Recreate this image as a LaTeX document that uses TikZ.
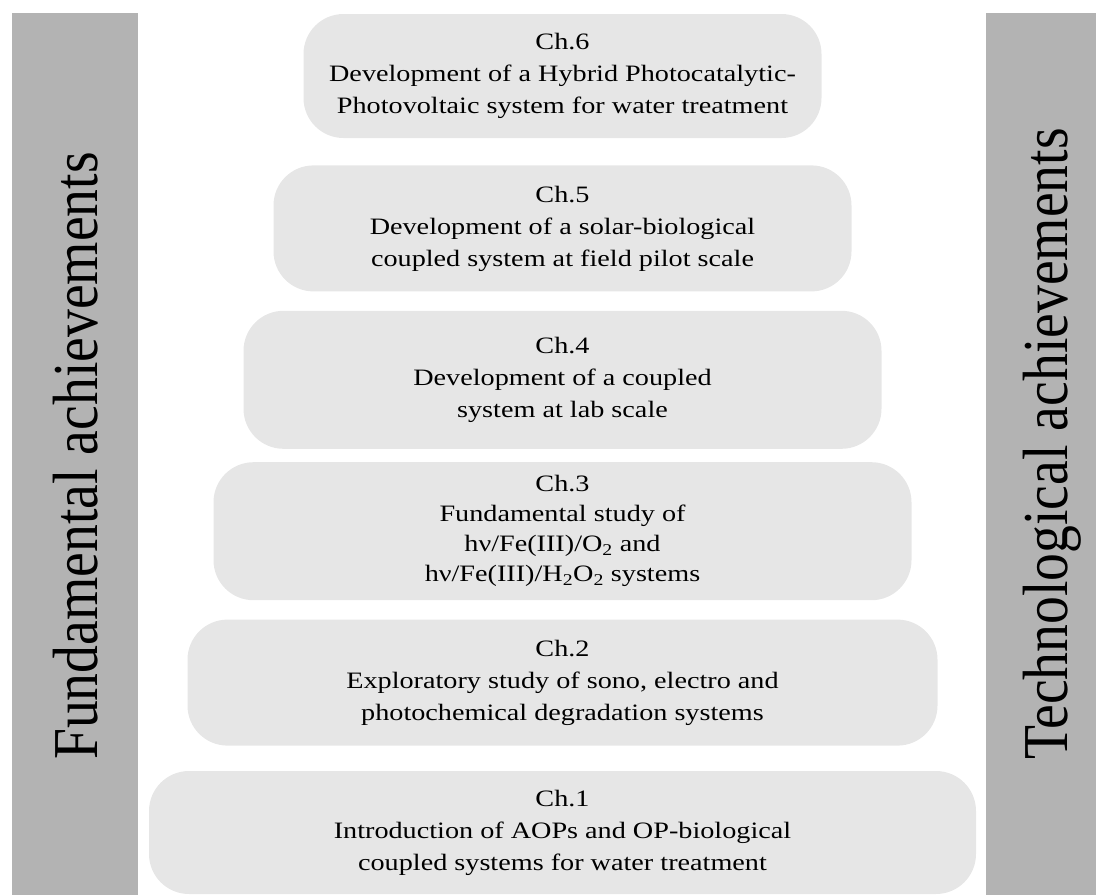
\documentclass[tikz,border=0pt]{standalone}
\usepackage{fontspec}
\usetikzlibrary{positioning}
\setmainfont{Liberation Serif}
\newfontfamily\chfont[FakeStretch=1.2]{Liberation Serif}
\newfontfamily\sidefont[FakeStretch=0.87]{Liberation Serif}
\definecolor{bargray}{HTML}{B3B3B3}
\definecolor{boxgray}{HTML}{E6E6E6}

\begin{document}
\begin{tikzpicture}[x=1pt, y=-1pt, node distance={20pt},
        chbox/.style = {fill=boxgray, rounded corners=40pt, align=center, inner sep=0pt,
                        font=\chfont\fontsize{23.5}{32}\selectfont},
        side/.style = {rotate=90, anchor=base west, inner sep=0pt,
                       font=\sidefont\fontsize{64}{70}\selectfont}]
        \useasboundingbox (0,0) rectangle (1096,895);

        \fill[bargray] (12,13) rectangle (138,895);
        \fill[bargray] (986,13) rectangle (1096,895);
        \node[side] (fund) at (97,760) {Fundamental achievements};
        \node[side] (tech) at (1067,760) {Technological achievements};

        \node[chbox, minimum width=827pt, minimum height=123pt] (ch1) at (562.5,832.5)
            {Ch.1\\Introduction of AOPs and OP-biological\\coupled systems for water treatment};
        \node[chbox, minimum width=750pt, minimum height=126pt] (ch2) [above=25pt of ch1]
            {Ch.2\\Exploratory study of sono, electro and\\photochemical degradation systems};
        \node[chbox, minimum width=698pt, minimum height=138pt, font=\chfont\fontsize{23.5}{30}\selectfont] (ch3) [above=19pt of ch2]
            {Ch.3\\Fundamental study of\\hν/Fe(III)/O\textsubscript{2} and\\hν/Fe(III)/H\textsubscript{2}O\textsubscript{2} systems};
        \node[chbox, minimum width=638pt, minimum height=138pt] (ch4) [above=13pt of ch3]
            {Ch.4\\Development of a coupled\\system at lab scale};
        \node[chbox, minimum width=578pt, minimum height=126pt] (ch5) [above=19pt of ch4]
            {Ch.5\\Development of a solar-biological\\coupled system at field pilot scale};
        \node[chbox, minimum width=518pt, minimum height=124pt] (ch6) [above=27pt of ch5]
            {Ch.6\\Development of a Hybrid Photocatalytic-\\Photovoltaic system for water treatment};

    \end{tikzpicture}
\end{document}
